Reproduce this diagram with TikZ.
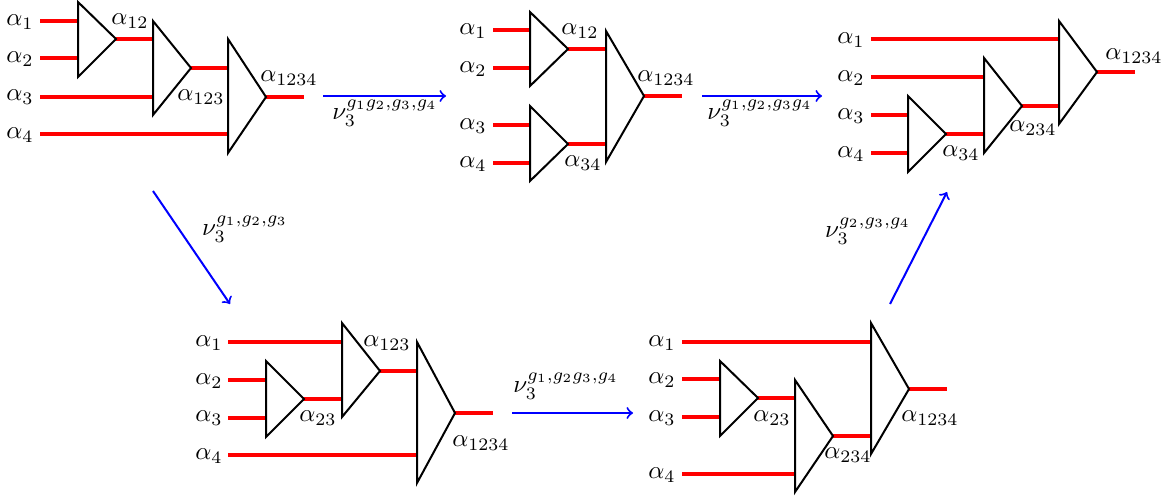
\documentclass[tikz,border=0pt]{standalone}
\usetikzlibrary{calc}
\tikzset{
  wire/.style={red, line width=1.7pt},
  gate/.style={black, line width=0.8pt, line join=miter},
  map/.style={blue, line width=0.8pt, ->},
  lab/.style={inner sep=0pt, outer sep=0pt}
}
\newcommand\mygate[5]{%
  \draw[gate] (#2,#3) -- (#2,#4) -- ($(#2,#5)+(38,0)$) -- cycle;
  \coordinate (#1) at ($(#2,#5)+(38,0)$);}
\begin{document}
\begin{tikzpicture}[x=0.4pt,y=-0.4pt]
\useasboundingbox (0,0) rectangle (1170,498);

% ---------- Diagram 1 ----------
\node[lab] (d1a1) at (20,22) {$\alpha_1$};
\node[lab] (d1a2) at (20,59) {$\alpha_2$};
\node[lab] (d1a3) at (20,97) {$\alpha_3$};
\node[lab] (d1a4) at (20,135) {$\alpha_4$};
\draw[wire] (40,21) -- (78,21);
\draw[wire] (40,58) -- (78,58);
\draw[wire] (115,39) -- (153,39);
\draw[wire] (40,97) -- (153,97);
\draw[wire] (190,68) -- (228,68);
\draw[wire] (40,134) -- (228,134);
\draw[wire] (266,97) -- (304,97);
\mygate{A1}{78}{2}{77}{39}
\mygate{B1}{153}{21}{115}{68}
\mygate{C1}{228}{39}{153}{97}
\node[lab] (d1l12) at (130,21) {$\alpha_{12}$};
\node[lab] (d1l123) at (201,97) {$\alpha_{123}$};
\node[lab] (d1l1234) at (289,78) {$\alpha_{1234}$};

% ---------- arrow 1 ----------
\coordinate (m1s) at (323,96);
\coordinate (m1e) at (446,96);
\draw[map] (m1s) -- (m1e);
\node[lab] (m1l) at (385,113) {$\nu_3^{g_1g_2,g_3,g_4}$};

% ---------- Diagram 2 ----------
\node[lab] (d2a1) at (473,31) {$\alpha_1$};
\node[lab] (d2a2) at (473,69) {$\alpha_2$};
\node[lab] (d2a3) at (473,126) {$\alpha_3$};
\node[lab] (d2a4) at (473,164) {$\alpha_4$};
\draw[wire] (493,30) -- (530,30);
\draw[wire] (493,68) -- (530,68);
\draw[wire] (493,125) -- (530,125);
\draw[wire] (493,163) -- (530,163);
\draw[wire] (568,49) -- (606,49);
\draw[wire] (568,144) -- (606,144);
\draw[wire] (644,96) -- (682,96);
\mygate{A2}{530}{12}{86}{49}
\mygate{B2}{530}{106}{181}{144}
\mygate{C2}{606}{31}{162}{96}
\node[lab] (d2l12) at (580,31) {$\alpha_{12}$};
\node[lab] (d2l1234) at (666,78) {$\alpha_{1234}$};
\node[lab] (d2l34) at (583,163) {$\alpha_{34}$};

% ---------- arrow 2 ----------
\coordinate (m2s) at (702,96);
\coordinate (m2e) at (822,96);
\draw[map] (m2s) -- (m2e);
\node[lab] (m2l) at (760,113) {$\nu_3^{g_1,g_2,g_3g_4}$};

% ---------- Diagram 3 ----------
\node[lab] (d3a1) at (851,40) {$\alpha_1$};
\node[lab] (d3a2) at (851,78) {$\alpha_2$};
\node[lab] (d3a3) at (851,116) {$\alpha_3$};
\node[lab] (d3a4) at (851,154) {$\alpha_4$};
\draw[wire] (871,39) -- (1059,39);
\draw[wire] (871,77) -- (984,77);
\draw[wire] (871,115) -- (908,115);
\draw[wire] (871,153) -- (908,153);
\draw[wire] (946,134) -- (984,134);
\draw[wire] (1022,106) -- (1059,106);
\draw[wire] (1097,72) -- (1135,72);
\mygate{A3}{908}{96}{172}{134}
\mygate{B3}{984}{58}{153}{106}
\mygate{C3}{1059}{21}{124}{72}
\node[lab] (d3l34) at (961,153) {$\alpha_{34}$};
\node[lab] (d3l234) at (1033,128) {$\alpha_{234}$};
\node[lab] (d3l1234) at (1134,56) {$\alpha_{1234}$};

% ---------- arrow 3 ----------
\coordinate (m3s) at (153,191);
\coordinate (m3e) at (230,304);
\draw[map] (m3s) -- (m3e);
\node[lab] (m3l) at (245,229) {$\nu_3^{g_1,g_2,g_3}$};

% ---------- Diagram 4 ----------
\node[lab] (d4a1) at (209,343) {$\alpha_1$};
\node[lab] (d4a2) at (209,381) {$\alpha_2$};
\node[lab] (d4a3) at (209,418) {$\alpha_3$};
\node[lab] (d4a4) at (209,456) {$\alpha_4$};
\draw[wire] (228,342) -- (342,342);
\draw[wire] (228,380) -- (266,380);
\draw[wire] (228,418) -- (266,418);
\draw[wire] (303,399) -- (342,399);
\draw[wire] (379,371) -- (417,371);
\draw[wire] (228,455) -- (417,455);
\draw[wire] (455,413) -- (493,413);
\mygate{A4}{266}{361}{437}{399}
\mygate{B4}{342}{323}{417}{371}
\mygate{C4}{417}{342}{483}{413}
\node[lab] (d4l23) at (318,418) {$\alpha_{23}$};
\node[lab] (d4l123) at (387,343) {$\alpha_{123}$};
\node[lab] (d4l1234) at (481,443) {$\alpha_{1234}$};

% ---------- arrow 4 ----------
\coordinate (m4s) at (512,413);
\coordinate (m4e) at (633,413);
\draw[map] (m4s) -- (m4e);
\node[lab] (m4l) at (566,386) {$\nu_3^{g_1,g_2g_3,g_4}$};

% ---------- Diagram 5 ----------
\node[lab] (d5a1) at (662,343) {$\alpha_1$};
\node[lab] (d5a2) at (662,380) {$\alpha_2$};
\node[lab] (d5a3) at (662,418) {$\alpha_3$};
\node[lab] (d5a4) at (662,475) {$\alpha_4$};
\draw[wire] (682,342) -- (871,342);
\draw[wire] (682,379) -- (720,379);
\draw[wire] (682,417) -- (720,417);
\draw[wire] (757,398) -- (795,398);
\draw[wire] (682,474) -- (795,474);
\draw[wire] (833,436) -- (871,436);
\draw[wire] (908,389) -- (947,389);
\mygate{A5}{720}{361}{436}{398}
\mygate{B5}{795}{380}{492}{436}
\mygate{C5}{871}{323}{454}{389}
\node[lab] (d5l23) at (772,418) {$\alpha_{23}$};
\node[lab] (d5l234) at (848,455) {$\alpha_{234}$};
\node[lab] (d5l1234) at (930,418) {$\alpha_{1234}$};

% ---------- arrow 5 ----------
\coordinate (m5s) at (890,304);
\coordinate (m5e) at (947,192);
\draw[map] (m5s) -- (m5e);
\node[lab] (m5l) at (868,231) {$\nu_3^{g_2,g_3,g_4}$};
\end{tikzpicture}
\end{document}
